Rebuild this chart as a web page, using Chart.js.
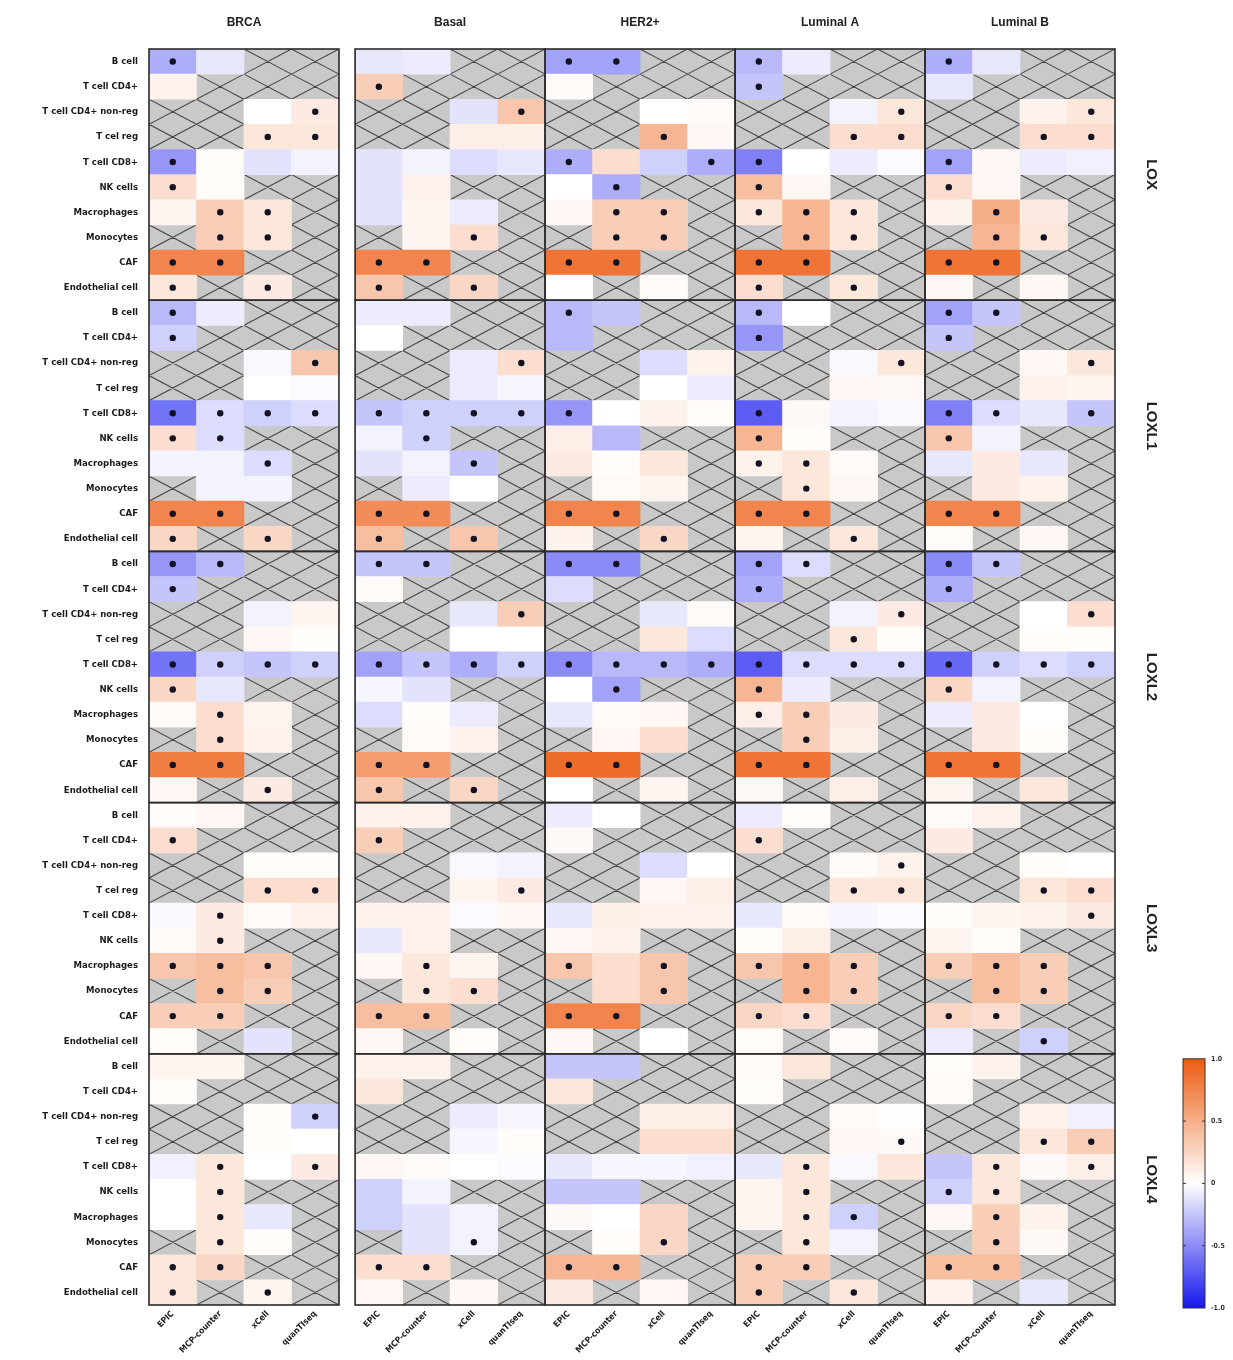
<!DOCTYPE html>
<html>
<head>
<meta charset="utf-8">
<script src="https://cdn.jsdelivr.net/npm/chart.js@4.4.1/dist/chart.umd.min.js"></script>
<style>
  html, body { margin: 0; padding: 0; background: #ffffff; }
  #wrap { width: 1233px; height: 1360px; position: relative; }
</style>
</head>
<body>
<div id="wrap"><canvas id="heat" width="1233" height="1360"></canvas></div>
<script>
// ---- labels ----
const cellTypes = ["B cell", "T cell CD4+", "T cell CD4+ non-reg", "T cel reg", "T cell CD8+",
                   "NK cells", "Macrophages", "Monocytes", "CAF", "Endothelial cell"];
const methods = ["EPIC", "MCP-counter", "xCell", "quanTIseq"];
const subtypes = ["BRCA", "Basal", "HER2+", "Luminal A", "Luminal B"];
const genes = ["LOX", "LOXL1", "LOXL2", "LOXL3", "LOXL4"];
const colorbarTicks = [1.0, 0.5, 0, -0.5, -1.0];

// ---- correlation values (null = not estimated by that method) ----
// each gene: panels in subtype order, 10 cell types x 4 methods
const _ = null;
const LOX = [
  [[-0.35,-0.10,_,_],[0.08,_,_,_],[_,_,0.00,0.12],[_,_,0.15,0.15],[-0.45,0.02,-0.12,-0.05],[0.20,0.02,_,_],[0.06,0.30,0.15,_],[_,0.30,0.15,_],[0.75,0.75,_,_],[0.15,_,0.12,_]],
  [[-0.10,-0.08,_,_],[0.30,_,_,_],[_,_,-0.12,0.35],[_,_,0.10,0.10],[-0.12,-0.05,-0.15,-0.10],[-0.12,0.08,_,_],[-0.12,0.06,-0.08,_],[_,0.06,0.20,_],[0.75,0.75,_,_],[0.35,_,0.25,_]],
  [[-0.40,-0.40,_,_],[0.03,_,_,_],[_,_,0.00,0.03],[_,_,0.45,0.05],[-0.35,0.20,-0.20,-0.35],[0.00,-0.35,_,_],[0.05,0.30,0.30,_],[_,0.30,0.30,_],[0.85,0.85,_,_],[0.00,_,0.03,_]],
  [[-0.30,-0.08,_,_],[-0.25,_,_,_],[_,_,-0.05,0.15],[_,_,0.20,0.20],[-0.55,0.00,-0.08,-0.02],[0.40,0.05,_,_],[0.15,0.45,0.15,_],[_,0.45,0.15,_],[0.85,0.85,_,_],[0.20,_,0.15,_]],
  [[-0.35,-0.10,_,_],[-0.10,_,_,_],[_,_,0.08,0.15],[_,_,0.20,0.20],[-0.40,0.05,-0.08,-0.06],[0.20,0.05,_,_],[0.08,0.50,0.12,_],[_,0.45,0.15,_],[0.85,0.85,_,_],[0.05,_,0.05,_]]
];
const LOXL1 = [
  [[-0.30,-0.08,_,_],[-0.20,_,_,_],[_,_,-0.03,0.35],[_,_,0.00,-0.02],[-0.60,-0.15,-0.20,-0.15],[0.20,-0.15,_,_],[-0.05,-0.05,-0.15,_],[_,-0.05,-0.05,_],[0.75,0.75,_,_],[0.25,_,0.25,_]],
  [[-0.08,-0.08,_,_],[0.00,_,_,_],[_,_,-0.08,0.20],[_,_,-0.08,-0.04],[-0.25,-0.20,-0.20,-0.20],[-0.05,-0.20,_,_],[-0.12,-0.05,-0.25,_],[_,-0.08,0.00,_],[0.70,0.70,_,_],[0.40,_,0.35,_]],
  [[-0.30,-0.25,_,_],[-0.30,_,_,_],[_,_,-0.15,0.08],[_,_,0.00,-0.08],[-0.45,0.00,0.08,0.02],[0.10,-0.30,_,_],[0.12,0.02,0.15,_],[_,0.03,0.06,_],[0.75,0.75,_,_],[0.08,_,0.25,_]],
  [[-0.30,0.00,_,_],[-0.45,_,_,_],[_,_,-0.03,0.15],[_,_,0.05,0.04],[-0.70,0.04,-0.05,-0.03],[0.45,0.02,_,_],[0.08,0.15,0.03,_],[_,0.15,0.05,_],[0.75,0.75,_,_],[0.06,_,0.15,_]],
  [[-0.40,-0.25,_,_],[-0.25,_,_,_],[_,_,0.05,0.15],[_,_,0.08,0.06],[-0.55,-0.15,-0.10,-0.25],[0.35,-0.05,_,_],[-0.10,0.12,-0.10,_],[_,0.12,0.08,_],[0.75,0.75,_,_],[0.02,_,0.05,_]]
];
const LOXL2 = [
  [[-0.45,-0.30,_,_],[-0.25,_,_,_],[_,_,-0.05,0.06],[_,_,0.05,0.02],[-0.60,-0.20,-0.25,-0.20],[0.25,-0.10,_,_],[0.03,0.20,0.06,_],[_,0.20,0.08,_],[0.80,0.80,_,_],[0.05,_,0.12,_]],
  [[-0.25,-0.25,_,_],[0.03,_,_,_],[_,_,-0.10,0.30],[_,_,0.00,0.00],[-0.40,-0.25,-0.35,-0.20],[-0.04,-0.12,_,_],[-0.15,0.02,-0.08,_],[_,0.03,0.08,_],[0.60,0.60,_,_],[0.35,_,0.25,_]],
  [[-0.50,-0.50,_,_],[-0.15,_,_,_],[_,_,-0.10,0.03],[_,_,0.15,-0.15],[-0.50,-0.30,-0.30,-0.35],[0.00,-0.40,_,_],[-0.10,0.03,0.05,_],[_,0.05,0.20,_],[0.90,0.90,_,_],[0.00,_,0.06,_]],
  [[-0.40,-0.15,_,_],[-0.35,_,_,_],[_,_,-0.05,0.12],[_,_,0.15,0.02],[-0.70,-0.15,-0.15,-0.15],[0.45,-0.08,_,_],[0.10,0.30,0.12,_],[_,0.30,0.10,_],[0.85,0.85,_,_],[0.04,_,0.10,_]],
  [[-0.50,-0.25,_,_],[-0.35,_,_,_],[_,_,0.00,0.20],[_,_,0.02,0.02],[-0.65,-0.20,-0.15,-0.20],[0.25,-0.05,_,_],[-0.08,0.12,0.00,_],[_,0.12,0.02,_],[0.85,0.85,_,_],[0.06,_,0.15,_]]
];
const LOXL3 = [
  [[0.02,0.05,_,_],[0.20,_,_,_],[_,_,0.02,0.02],[_,_,0.20,0.20],[-0.03,0.12,0.03,0.08],[0.03,0.12,_,_],[0.35,0.40,0.35,_],[_,0.40,0.30,_],[0.30,0.30,_,_],[0.02,_,-0.12,_]],
  [[0.08,0.08,_,_],[0.30,_,_,_],[_,_,-0.03,-0.05],[_,_,0.06,0.12],[0.08,0.08,-0.02,0.05],[-0.10,0.08,_,_],[0.05,0.15,0.06,_],[_,0.15,0.20,_],[0.40,0.40,_,_],[0.05,_,0.02,_]],
  [[-0.08,0.00,_,_],[0.04,_,_,_],[_,_,-0.15,0.00],[_,_,0.05,0.10],[-0.10,0.10,0.08,0.08],[0.05,0.08,_,_],[0.35,0.20,0.35,_],[_,0.20,0.35,_],[0.75,0.75,_,_],[0.05,_,0.00,_]],
  [[-0.08,0.02,_,_],[0.20,_,_,_],[_,_,0.03,0.08],[_,_,0.15,0.15],[-0.10,0.03,-0.04,-0.02],[0.02,0.10,_,_],[0.35,0.45,0.30,_],[_,0.45,0.30,_],[0.25,0.20,_,_],[0.02,_,0.03,_]],
  [[0.03,0.08,_,_],[0.12,_,_,_],[_,_,0.02,0.00],[_,_,0.15,0.20],[0.02,0.06,0.08,0.12],[0.06,0.02,_,_],[0.30,0.40,0.30,_],[_,0.40,0.30,_],[0.25,0.20,_,_],[-0.08,_,-0.20,_]]
];
const LOXL4 = [
  [[0.06,0.06,_,_],[0.02,_,_,_],[_,_,0.02,-0.20],[_,_,0.02,0.00],[-0.06,0.15,0.00,0.12],[0.00,0.15,_,_],[0.00,0.15,-0.10,_],[_,0.15,0.02,_],[0.15,0.25,_,_],[0.15,_,0.06,_]],
  [[0.08,0.08,_,_],[0.15,_,_,_],[_,_,-0.08,-0.04],[_,_,-0.04,0.02],[0.05,0.03,0.00,-0.02],[-0.20,-0.05,_,_],[-0.20,-0.12,-0.05,_],[_,-0.12,-0.05,_],[0.20,0.20,_,_],[0.05,_,0.05,_]],
  [[-0.25,-0.25,_,_],[0.15,_,_,_],[_,_,0.10,0.10],[_,_,0.20,0.20],[-0.10,-0.04,-0.04,-0.06],[-0.25,-0.25,_,_],[0.04,0.00,0.25,_],[_,0.02,0.25,_],[0.45,0.45,_,_],[0.12,_,0.05,_]],
  [[0.03,0.15,_,_],[0.02,_,_,_],[_,_,0.03,0.01],[_,_,0.05,0.04],[-0.10,0.15,-0.03,0.15],[0.06,0.15,_,_],[0.06,0.15,-0.20,_],[_,0.15,-0.05,_],[0.30,0.30,_,_],[0.30,_,0.15,_]],
  [[0.02,0.08,_,_],[0.03,_,_,_],[_,_,0.08,-0.06],[_,_,0.15,0.30],[-0.25,0.15,0.04,0.10],[-0.20,0.15,_,_],[0.05,0.30,0.08,_],[_,0.30,0.04,_],[0.40,0.40,_,_],[0.08,_,-0.10,_]]
];

// ---- significance marks: one string per panel, rows separated by spaces, '*' = significant ----
const LOX_sig = [
  "*--- ---- ---* --** *--- *--- -**- -**- **-- *-*-",
  "---- *--- ---* ---- ---- ---- ---- --*- **-- *-*-",
  "**-- ---- ---- --*- *--* -*-- -**- -**- **-- ----",
  "*--- *--- ---* --** *--- *--- ***- -**- **-- *-*-",
  "*--- ---- ---* --** *--- *--- -*-- -**- **-- ----"
];
const LOXL1_sig = [
  "*--- *--- ---* ---- **** **-- --*- ---- **-- *-*-",
  "---- ---- ---* ---- **** -*-- --*- ---- **-- *-*-",
  "*--- ---- ---- ---- *--- ---- ---- ---- **-- --*-",
  "*--- *--- ---* ---- *--- *--- **-- -*-- **-- --*-",
  "**-- *--- ---* ---- **-* *--- ---- ---- **-- ----"
];
const LOXL2_sig = [
  "**-- *--- ---- ---- **** *--- -*-- -*-- **-- --*-",
  "**-- ---- ---* ---- **** ---- ---- ---- **-- *-*-",
  "**-- ---- ---- ---- **** -*-- ---- ---- **-- ----",
  "**-- *--- ---* --*- **** *--- **-- -*-- **-- ----",
  "**-- *--- ---* ---- **** *--- ---- ---- **-- ----"
];
const LOXL3_sig = [
  "---- *--- ---- --** -*-- -*-- ***- -**- **-- ----",
  "---- *--- ---- ---* ---- ---- -*-- -**- **-- ----",
  "---- ---- ---- ---- ---- ---- *-*- --*- **-- ----",
  "---- *--- ---* --** ---- ---- ***- -**- **-- ----",
  "---- ---- ---- --** ---* ---- ***- -**- **-- --*-"
];
const LOXL4_sig = [
  "---- ---- ---* ---- -*-* -*-- -*-- -*-- **-- *-*-",
  "---- ---- ---- ---- ---- ---- ---- --*- **-- ----",
  "---- ---- ---- ---- ---- ---- ---- --*- **-- ----",
  "---- ---- ---- ---* -*-- -*-- -**- -*-- **-- *-*-",
  "---- ---- ---- --** -*-* **-- -*-- -*-- **-- ----"
];

const geneValues = [LOX, LOXL1, LOXL2, LOXL3, LOXL4];
const geneSig = [LOX_sig, LOXL1_sig, LOXL2_sig, LOXL3_sig, LOXL4_sig];

// ---- colour map: blue (-1) -> white (0) -> orange (+1) ----
const POS_END = [236, 92, 18];
const NEG_END = [22, 22, 238];
function corrColor(v) {
  const t = Math.min(1, Math.abs(v));
  const end = v >= 0 ? POS_END : NEG_END;
  return 'rgb(' + end.map(k => Math.round(255 + (k - 255) * t)).join(',') + ')';
}

// ---- grid geometry in axis units ----
const NM = methods.length;
const NR = cellTypes.length;
const POOLED_GAP = 0.34;                       // space after the pooled BRCA panel
const panelStart = p => p * NM + (p > 0 ? POOLED_GAP : 0);
const X_MAX = panelStart(subtypes.length - 1) + NM;
const ROWS = genes.length * NR;

// ---- build bar / point data ----
const cellData = [], cellColors = [], naData = [], dotData = [];
geneValues.forEach((panels, g) => {
  panels.forEach((panel, p) => {
    const sigRows = geneSig[g][p].split(' ');
    panel.forEach((row, r) => {
      row.forEach((v, m) => {
        const y = g * NR + r;
        const x0 = panelStart(p) + m;
        if (v === null) {
          naData.push({ y: y, x: [x0, x0 + 1] });
        } else {
          cellData.push({ y: y, x: [x0, x0 + 1] });
          cellColors.push(corrColor(v));
          if (sigRows[r][m] === '*') dotData.push({ x: x0 + 0.5, y: y });
        }
      });
    });
  });
});

// ---- plugins ----
const hatchPlugin = {
  id: 'hatch',
  afterDatasetDraw(chart, args) {
    if (args.meta._dataset.label !== 'not available') return;
    const ctx = chart.ctx, area = chart.chartArea;
    ctx.save();
    ctx.beginPath();
    ctx.rect(area.left, area.top, area.right - area.left, area.bottom - area.top);
    ctx.clip();
    ctx.strokeStyle = '#474747';
    ctx.lineWidth = 1.1;
    ctx.beginPath();
    args.meta.data.forEach(el => {
      const p = el.getProps(['x', 'y', 'base', 'height'], true);
      const l = Math.min(p.x, p.base), r = Math.max(p.x, p.base);
      const t = p.y - p.height / 2, b = p.y + p.height / 2;
      ctx.moveTo(l, t); ctx.lineTo(r, b);
      ctx.moveTo(l, b); ctx.lineTo(r, t);
    });
    ctx.stroke();
    ctx.restore();
  }
};

const framePlugin = {
  id: 'frames',
  afterDatasetsDraw(chart) {
    const ctx = chart.ctx, xs = chart.scales.x, ys = chart.scales.y;
    ctx.save();
    ctx.strokeStyle = '#2b2b2b';
    ctx.lineWidth = 1.6;
    genes.forEach((gname, g) => {
      subtypes.forEach((s, p) => {
        const l = xs.getPixelForValue(panelStart(p));
        const r = xs.getPixelForValue(panelStart(p) + NM);
        const t = ys.getPixelForValue(g * NR - 0.5);
        const b = ys.getPixelForValue(g * NR + NR - 0.5);
        ctx.strokeRect(l, t, r - l, b - t);
      });
    });
    ctx.restore();
  }
};

const colorbarPlugin = {
  id: 'colorbar',
  afterDraw(chart) {
    const ctx = chart.ctx, area = chart.chartArea, ys = chart.scales.y;
    const left = area.right + 68, width = 22;
    const top = ys.getPixelForValue((genes.length - 1) * NR - 0.5) + 5;
    const bottom = ys.getPixelForValue(ROWS - 0.5) + 3;
    const valToY = v => top + (1 - v) / 2 * (bottom - top);
    ctx.save();
    const grad = ctx.createLinearGradient(0, top, 0, bottom);
    for (let i = 0; i <= 20; i++) {
      const v = 1 - i / 10;
      grad.addColorStop(i / 20, corrColor(v));
    }
    ctx.fillStyle = grad;
    ctx.fillRect(left, top, width, bottom - top);
    ctx.strokeStyle = '#333333';
    ctx.lineWidth = 1;
    ctx.strokeRect(left, top, width, bottom - top);
    ctx.fillStyle = '#333333';
    ctx.font = 'bold 7px "DejaVu Sans Condensed", "Liberation Sans", sans-serif';
    ctx.textAlign = 'left';
    ctx.textBaseline = 'middle';
    colorbarTicks.forEach(v => {
      const y = valToY(v);
      if (v < 1 && v > -1) {
        ctx.beginPath();
        ctx.moveTo(left, y); ctx.lineTo(left + 3, y);
        ctx.moveTo(left + width, y); ctx.lineTo(left + width - 3, y);
        ctx.stroke();
      }
      const txt = (v === 0) ? '0' : v.toFixed(1);
      ctx.fillText(txt, left + width + 6, y);
    });
    ctx.restore();
  }
};

const rowFont = { family: "'Liberation Sans Narrow', 'DejaVu Sans Condensed', 'Liberation Sans', sans-serif", size: 9.5, weight: 'bold' };
const hidden = { display: false, drawTicks: false };

new Chart(document.getElementById('heat'), {
  type: 'bar',
  data: {
    datasets: [
      {
        type: 'scatter',
        label: 'significant',
        data: dotData,
        xAxisID: 'x', yAxisID: 'y',
        pointRadius: 3.2,
        pointBackgroundColor: '#111122',
        pointBorderWidth: 0,
        order: 0
      },
      {
        label: 'correlation',
        indexAxis: 'y',
        data: cellData,
        backgroundColor: cellColors,
        borderWidth: 0,
        grouped: false,
        barPercentage: 1,
        categoryPercentage: 1,
        xAxisID: 'x', yAxisID: 'y',
        order: 1
      },
      {
        label: 'not available',
        indexAxis: 'y',
        data: naData,
        backgroundColor: '#c9c9c9',
        borderWidth: 0,
        grouped: false,
        barPercentage: 1,
        categoryPercentage: 1,
        xAxisID: 'x', yAxisID: 'y',
        order: 2
      }
    ]
  },
  options: {
    responsive: false,
    animation: false,
    devicePixelRatio: 1,
    layout: { padding: 0 },
    plugins: { legend: { display: false }, tooltip: { enabled: false } },
    scales: {
      x: {
        type: 'linear', position: 'bottom', min: 0, max: X_MAX, offset: false,
        grid: hidden, border: { display: false },
        afterBuildTicks: s => {
          s.ticks = [];
          subtypes.forEach((_s, p) => methods.forEach((_m, m) => s.ticks.push({ value: panelStart(p) + m + 0.5 })));
        },
        ticks: {
          autoSkip: false, minRotation: 45, maxRotation: 45, padding: 4,
          color: '#222222', font: { family: rowFont.family, size: 8.5, weight: 'bold' },
          callback: (v, i) => methods[i % NM]
        },
        afterFit: s => { s.height = 55; }
      },
      xTop: {
        type: 'linear', axis: 'x', position: 'top', min: 0, max: X_MAX, offset: false,
        grid: hidden, border: { display: false },
        afterBuildTicks: s => { s.ticks = subtypes.map((_s, p) => ({ value: panelStart(p) + NM / 2 })); },
        ticks: {
          autoSkip: false, minRotation: 0, maxRotation: 0, padding: 19,
          color: '#222222', font: { family: "'Liberation Sans', Arial, sans-serif", size: 12, weight: 'bold' },
          callback: (v, i) => subtypes[i]
        },
        afterFit: s => { s.height = 49; }
      },
      y: {
        type: 'linear', position: 'left', reverse: true, min: -0.5, max: ROWS - 0.5, offset: false,
        grid: hidden, border: { display: false },
        afterBuildTicks: s => { s.ticks = Array.from({ length: ROWS }, (_v, i) => ({ value: i })); },
        ticks: {
          autoSkip: false, padding: 11, color: '#1a1a1a', font: rowFont,
          callback: v => cellTypes[Math.round(v) % NR]
        },
        afterFit: s => { s.width = 149; }
      },
      yRight: {
        type: 'linear', axis: 'y', position: 'right', reverse: true, min: -0.5, max: ROWS - 0.5, offset: false,
        grid: hidden, border: { display: false },
        afterBuildTicks: s => { s.ticks = genes.map((_g, g) => ({ value: g * NR + (NR - 1) / 2 })); },
        ticks: {
          autoSkip: false, minRotation: -90, maxRotation: 0, crossAlign: 'center', padding: 12,
          color: '#222222', font: { family: "'Liberation Sans', Arial, sans-serif", size: 15, weight: 'bold' },
          callback: (v, i) => genes[i]
        },
        afterFit: s => { s.width = 118; }
      }
    }
  },
  plugins: [hatchPlugin, framePlugin, colorbarPlugin]
});
</script>
</body>
</html>
